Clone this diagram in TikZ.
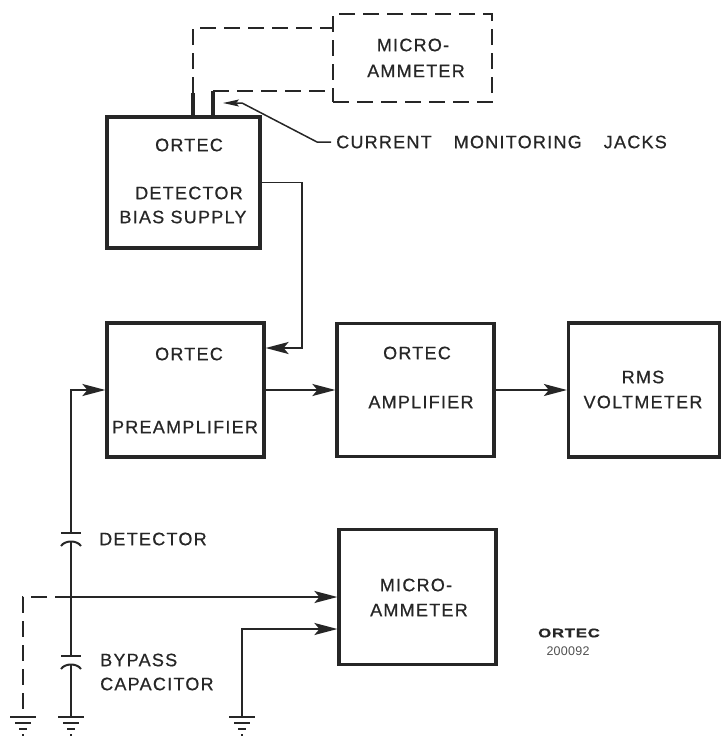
\documentclass[tikz,border=0pt]{standalone}
\usepackage{fontspec}
\setmainfont{Liberation Sans}[LetterSpace=7,FakeBold=0.6]
\usetikzlibrary{arrows.meta}
\definecolor{ink}{HTML}{262626}
\definecolor{logo}{HTML}{505050}
\begin{document}
\begin{tikzpicture}[x=1pt,y=-1pt,
  box/.style={draw=ink, line width=3.2pt, inner sep=0pt},
  dbox/.style={draw=ink, line width=2.2pt, dash pattern=on 16pt off 8pt, inner sep=0pt},
  wire/.style={draw=ink, line width=1.8pt},
  dwire/.style={draw=ink, line width=2pt, dash pattern=on 16pt off 8pt},
  jack/.style={draw=ink, line width=3.5pt},
  arr/.style={-{Stealth[length=23pt,width=12pt,inset=5pt]}},
  sarr/.style={-{Stealth[length=16pt,width=7pt,inset=3pt]}},
  lbl/.style={inner sep=0pt, text=ink, font=\fontsize{18}{21}\selectfont},
  gnd/.pic={\draw[ink, line width=2pt] (-13,0) -- (13,0) (-8,6) -- (8,6) (-4,12) -- (4,12) (-1,18) -- (1,18);},
  cap/.pic={\draw[ink, line width=2pt] (-10,0) -- (10,0);
            \draw[ink, line width=2pt] (-10,13) .. controls (-6,7) and (6,7) .. (10,13);}
]
\useasboundingbox (0,0) rectangle (721,736);

% boxes
\node[box, minimum width=153pt, minimum height=131pt] (bias) at (183.5,182.5) {};
\node[box, minimum width=157pt, minimum height=134pt] (pre) at (185.5,390) {};
\node[box, minimum width=157pt, minimum height=133pt] (amp) at (415.5,390) {};
\node[box, minimum width=151pt, minimum height=134pt] (rms) at (644,390) {};
\node[box, minimum width=157pt, minimum height=135pt] (mic) at (417.5,597) {};
\node[dbox, minimum width=159pt, minimum height=88pt] (mictop) at (412.5,58) {};

% box labels
\node[lbl] (tA) at (413,45) {MICRO-};
\node[lbl] (tB) at (416,71) {AMMETER};
\node[lbl] (tC) at (189,145) {ORTEC};
\node[lbl] (tD) at (189,193) {DETECTOR};
\node[lbl] (tE) at (183,217) {BIAS SUPPLY};
\node[lbl] (tF) at (189,354) {ORTEC};
\node[lbl] (tG) at (185,427) {PREAMPLIFIER};
\node[lbl] (tH) at (417,353) {ORTEC};
\node[lbl] (tI) at (421,402) {AMPLIFIER};
\node[lbl] (tJ) at (643,377) {RMS};
\node[lbl] (tK) at (643,402) {VOLTMETER};
\node[lbl] (tL) at (416,585) {MICRO-};
\node[lbl] (tM) at (419,610) {AMMETER};
\node[lbl, anchor=west] (tN) at (336,142) {CURRENT\hspace{22pt}MONITORING\hspace{22pt}JACKS};
\node[lbl, anchor=west] (tO) at (99,539) {DETECTOR};
\node[lbl, anchor=west] (tP) at (100,660) {BYPASS};
\node[lbl, anchor=west] (tQ) at (100,684) {CAPACITOR};
\node[inner sep=0pt, text=ink, font=\fontsize{12.5}{14}\selectfont\bfseries\addfontfeature{LetterSpace=4}] (logo) at (569,633) {\scalebox{1.35}[1]{ORTEC}};
\node[inner sep=0pt, text=logo, font=\fontsize{12.5}{14}\selectfont\addfontfeature{LetterSpace=2,FakeBold=0}] (num) at (568,651) {200092};

% current monitoring jacks
\coordinate (jL) at (193,93);
\coordinate (jR) at (213,91);
\draw[jack] (bias.north -| jL) -- (jL);
\draw[jack] (bias.north -| jR) -- (jR);
\coordinate (dT) at (193,28);
\draw[dwire] (jL) -- (dT) -- (mictop.west |- dT);
\draw[dwire] (jR) -- (mictop.west |- jR);
\coordinate (pA) at (331,142);
\coordinate (pB) at (317,142);
\coordinate (pC) at (242,103);
\coordinate (pD) at (223,103);
\draw[wire, line width=1.5pt, sarr] (pA) -- (pB) -- (pC) -- (pD);

% signal chain
\coordinate (pIn) at ([yshift=42pt]pre.east);
\draw[wire, arr] (bias.east) -- ++(40,0) |- (pIn);
\draw[wire, arr] (pre.east) -- (amp.west);
\draw[wire, arr] (amp.east) -- (rms.west);

% detector and bypass capacitor
\coordinate (capD) at (71,533);
\coordinate (capDb) at (71,541);
\coordinate (capB) at (71,656);
\coordinate (capBb) at (71,664);
\coordinate (g1) at (23,717);
\coordinate (g2) at (71,717);
\coordinate (g3) at (242,717);
\coordinate (jun) at (71,597);
\coordinate (dC) at (23,597);
\coordinate (m2) at ([yshift=-32pt]mic.west);
\pic at (capD) {cap};
\pic at (capB) {cap};
\draw[wire, arr] (capD) |- (pre.west);
\draw[wire] (capDb) -- (capB);
\draw[wire] (capBb) -- (g2);
\draw[wire, arr] (jun) -- (mic.west);
\draw[dwire] (jun) -- (dC) -- (g1);
\draw[wire, arr] (g3) |- (m2);
\pic at (g1) {gnd};
\pic at (g2) {gnd};
\pic at (g3) {gnd};
\end{tikzpicture}
\end{document}
